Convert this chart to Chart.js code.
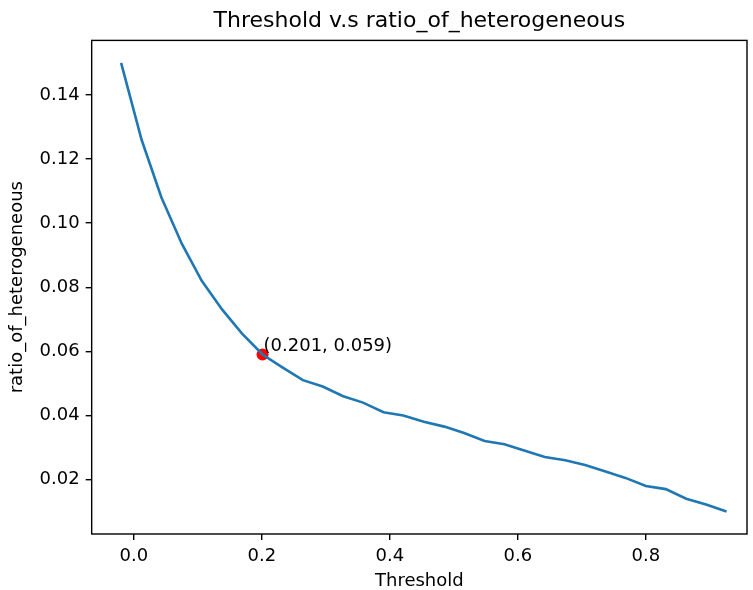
<!DOCTYPE html>
<html>
<head>
<meta charset="utf-8">
<script src="https://cdn.jsdelivr.net/npm/chart.js@4/dist/chart.umd.min.js"></script>
<style>
  html, body { margin: 0; padding: 0; background: #fff; }
  #chart { display: block; }
</style>
</head>
<body>
<canvas id="chart" width="753" height="590"></canvas>
<script>
// data
const thresholds = [-0.020, 0.012, 0.043, 0.075, 0.106, 0.138, 0.169, 0.201, 0.232, 0.264,
                    0.295, 0.327, 0.358, 0.390, 0.421, 0.453, 0.485, 0.516, 0.548, 0.579,
                    0.611, 0.642, 0.674, 0.705, 0.737, 0.768, 0.800, 0.831, 0.863, 0.894, 0.926]
const ratios = [0.150, 0.126, 0.108, 0.0935, 0.082, 0.073, 0.0655, 0.059, 0.055, 0.051,
                0.049, 0.046, 0.044, 0.041, 0.040, 0.038, 0.0365, 0.0345, 0.032, 0.031,
                0.029, 0.027, 0.026, 0.0245, 0.0225, 0.0205, 0.018, 0.017, 0.014, 0.0122, 0.010]

const markX = 0.201
const markY = 0.059
const markLabel = '(0.201, 0.059)'

const xTicks = [0.0, 0.2, 0.4, 0.6, 0.8]
const yTicks = [0.02, 0.04, 0.06, 0.08, 0.10, 0.12, 0.14]

const FONT = "'DejaVu Sans', sans-serif"

// matplotlib style box round the plot + the text next to the red point
const framePlugin = {
  id: 'frame',
  afterDatasetsDraw( chart ) {
    const { ctx, chartArea: a, scales } = chart
    ctx.save()
    ctx.strokeStyle = '#000'
    ctx.lineWidth = 1.4
    ctx.strokeRect( a.left, a.top, a.right - a.left, a.bottom - a.top )

    const px = scales.x.getPixelForValue( markX )
    const py = scales.y.getPixelForValue( markY )
    ctx.fillStyle = '#000'
    ctx.font = '18px ' + FONT
    ctx.textAlign = 'left'
    ctx.textBaseline = 'alphabetic'
    ctx.fillText( markLabel, px + 1, py - 4 )
    ctx.restore()
  }
}

const setTicks = list => axis => { axis.ticks = list.map( v => ( { value: v } ) ) }

new Chart( document.getElementById( 'chart' ), {
  type: 'scatter',
  data: {
    datasets: [
      {
        data: thresholds.map( ( x, i ) => ( { x: x, y: ratios[i] } ) ),
        showLine: true,
        borderColor: '#1f77b4',
        borderWidth: 2.6,
        pointRadius: 0,
        tension: 0
      },
      {
        data: [ { x: markX, y: markY } ],
        pointRadius: 6,
        backgroundColor: '#ff0000',
        borderColor: '#ff0000',
        borderWidth: 0
      }
    ]
  },
  options: {
    responsive: false,
    animation: false,
    layout: { padding: { left: 2, right: 6, top: 0, bottom: 0 } },
    plugins: {
      legend: { display: false },
      tooltip: { enabled: false },
      title: {
        display: true,
        fullSize: false,
        text: 'Threshold v.s ratio_of_heterogeneous',
        color: '#000',
        font: { family: FONT, size: 22, weight: 'normal' },
        padding: { top: 8, bottom: 6 }
      }
    },
    scales: {
      x: {
        type: 'linear',
        min: -0.066,
        max: 0.958,
        afterBuildTicks: setTicks( xTicks ),
        border: { display: false },
        grid: { display: true, drawOnChartArea: false, drawTicks: true, tickLength: 6, color: '#000', lineWidth: 1.4 },
        ticks: {
          color: '#000',
          padding: 7,
          maxRotation: 0,
          font: { family: FONT, size: 18, lineHeight: 1 },
          callback: v => v.toFixed( 1 )
        },
        title: {
          display: true,
          text: 'Threshold',
          color: '#000',
          font: { family: FONT, size: 18, lineHeight: 1 },
          padding: { top: 0, bottom: 0 }
        }
      },
      y: {
        type: 'linear',
        min: 0.003,
        max: 0.157,
        afterBuildTicks: setTicks( yTicks ),
        border: { display: false },
        grid: { display: true, drawOnChartArea: false, drawTicks: true, tickLength: 6, color: '#000', lineWidth: 1.4 },
        ticks: {
          color: '#000',
          padding: 6,
          font: { family: FONT, size: 18 },
          callback: v => v.toFixed( 2 )
        },
        title: {
          display: true,
          text: 'ratio_of_heterogeneous',
          color: '#000',
          font: { family: FONT, size: 18 },
          padding: { top: 5, bottom: 5 }
        }
      }
    }
  },
  plugins: [ framePlugin ]
})
</script>
</body>
</html>
